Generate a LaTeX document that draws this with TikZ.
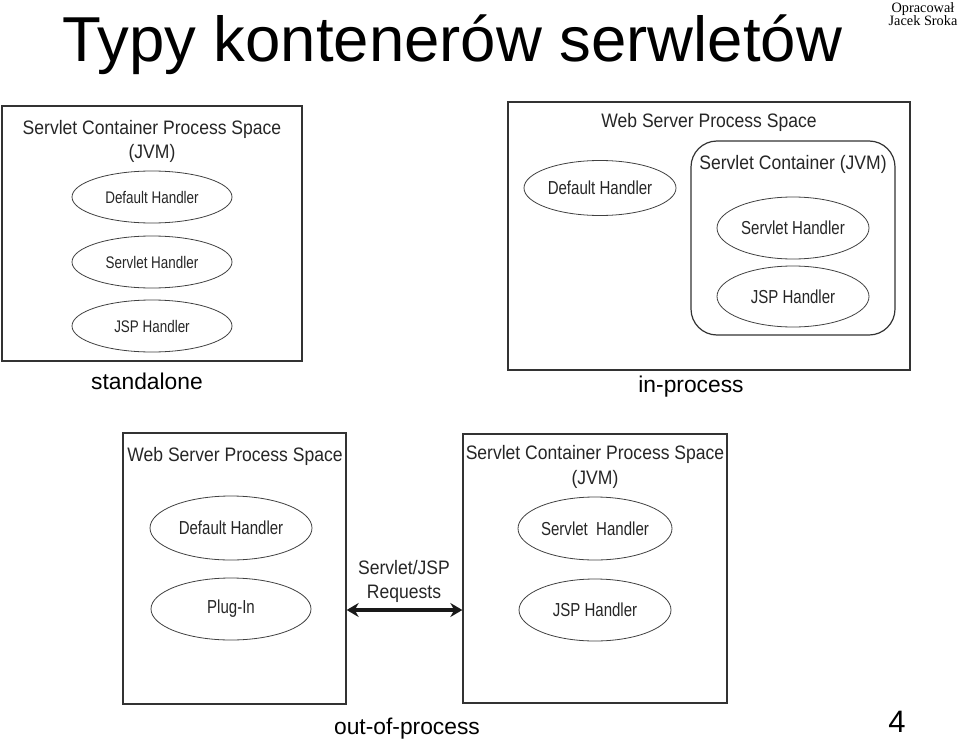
\documentclass[tikz,border=0pt]{standalone}
\usepackage{fontspec}
\setmainfont{Liberation Sans}
\newfontfamily\serifjs{Liberation Serif}
\newfontfamily\condsans[FakeStretch=0.9]{Liberation Sans}
\newfontfamily\condell[FakeStretch=0.8]{Liberation Sans}
\usetikzlibrary{shapes.geometric,arrows.meta}
\begin{document}
\begin{tikzpicture}[x=1pt,y=-1pt,
  boxst/.style={draw=black!80,line width=1.3pt,rectangle,inner sep=0pt},
  ell/.style={draw=black!75,line width=0.8pt,ellipse,inner sep=0pt,font=\condell\fontsize{16.8}{18}\selectfont,text=black!85},
  ellbig/.style={ell,font=\condell\fontsize{18.8}{20}\selectfont},
  hdr/.style={font=\condsans\fontsize{19.5}{21}\selectfont,text=black!85,anchor=base,inner sep=0pt},
  captext/.style={font=\fontsize{22.8}{25}\selectfont,anchor=base,inner sep=0pt}]
\useasboundingbox (0,0) rectangle (960,741);
% title
\node[anchor=base west,inner sep=0pt,font=\fontsize{63.5}{66}\selectfont] (title) at (62,62) {Typy kontenerów serwletów};
\node[anchor=north,inner sep=0pt,align=center,font=\serifjs\fontsize{14.3}{13}\selectfont] (author) at (923,2) {Opracował\\Jacek Sroka};
% standalone
\node[boxst,minimum width=300,minimum height=255] (b1) at (152,233.5) {};
\node[hdr] (b1t) at (152,134) {Servlet Container Process Space};
\node[hdr] (b1j) at (152,158) {(JVM)};
\node[ell,minimum width=160,minimum height=52] (b1e1) at (152,197) {Default Handler};
\node[ell,minimum width=160,minimum height=52] (b1e2) at (152,262) {Servlet Handler};
\node[ell,minimum width=160,minimum height=52] (b1e3) at (152,326) {JSP Handler};
\node[captext] (c1) at (147,389) {standalone};
% in-process
\node[boxst,minimum width=402,minimum height=268] (b2) at (709,236) {};
\node[hdr] (b2t) at (709,128) {Web Server Process Space};
\node[ellbig,minimum width=152,minimum height=55] (b2e1) at (600,188) {Default Handler};
\draw[draw=black!80,line width=1.2pt,rounded corners=26] (691,141) rectangle (895,335);
\node[hdr] (b2s) at (793,169) {Servlet Container (JVM)};
\node[ellbig,minimum width=152,minimum height=62] (b2e2) at (793,228) {Servlet Handler};
\node[ellbig,minimum width=152,minimum height=61] (b2e3) at (793,296.5) {JSP Handler};
\node[captext] (c2) at (691,392) {in-process};
% out-of-process
\node[boxst,minimum width=223,minimum height=271] (b3) at (234.5,568.5) {};
\node[hdr] (b3t) at (235,461) {Web Server Process Space};
\node[ellbig,minimum width=162,minimum height=64] (b3e1) at (231,528) {Default Handler};
\node[ellbig,minimum width=160,minimum height=62] (b3e2) at (231,609) {Plug-In};
\node[boxst,minimum width=264,minimum height=269] (b4) at (595,568.5) {};
\node[hdr] (b4t) at (595,459) {Servlet Container Process Space};
\node[hdr] (b4j) at (595,484) {(JVM)};
\node[ellbig,minimum width=154,minimum height=63] (b4e1) at (595,528.5) {Servlet~ Handler};
\node[ellbig,minimum width=152,minimum height=62] (b4e2) at (595,610) {JSP Handler};
\draw[line width=3.8pt,black!90,{Stealth[length=12pt,width=14pt]}-{Stealth[length=12pt,width=14pt]}]
  ([yshift=-41.5pt]b3.east) -- ([yshift=-41.5pt]b4.west);
\node[hdr] (arrl1) at (404,574) {Servlet/JSP};
\node[hdr] (arrl2) at (404,598) {Requests};
\node[captext] (c3) at (407,734) {out-of-process};
\node[anchor=base,inner sep=0pt,font=\fontsize{31}{33}\selectfont] (pg) at (897,732) {4};
\end{tikzpicture}
\end{document}
